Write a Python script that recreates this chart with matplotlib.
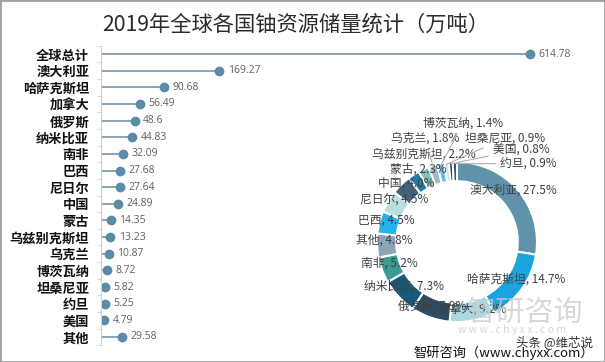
import matplotlib
matplotlib.use("Agg")
import matplotlib.pyplot as plt
import matplotlib.patches as patches
import numpy as np

plt.rcParams['font.family'] = ['Noto Sans CJK SC', 'DejaVu Sans']

# lollipop data (top to bottom)
countries = ['全球总计', '澳大利亚', '哈萨克斯坦', '加拿大', '俄罗斯', '纳米比亚', '南非', '巴西',
             '尼日尔', '中国', '蒙古', '乌兹别克斯坦', '乌克兰', '博茨瓦纳', '坦桑尼亚', '约旦',
             '美国', '其他']
reserves = [614.78, 169.27, 90.68, 56.49, 48.6, 44.83, 32.09, 27.68, 27.64, 24.89, 14.35,
            13.23, 10.87, 8.72, 5.82, 5.25, 4.79, 29.58]
value_labels = ['614.78', '169.27', '90.68', '56.49', '48.6', '44.83', '32.09', '27.68', '27.64',
                '24.89', '14.35', '13.23', '10.87', '8.72', '5.82', '5.25', '4.79', '29.58']

# donut data (clockwise from top)
pie_names = ['澳大利亚', '哈萨克斯坦', '加拿大', '俄罗斯', '纳米比亚', '南非', '其他', '巴西', '尼日尔',
             '中国', '蒙古', '乌兹别克斯坦', '乌克兰', '博茨瓦纳', '坦桑尼亚', '美国', '约旦']
pie_values = [169.27, 90.68, 56.49, 48.6, 44.83, 32.09, 29.58, 27.68, 27.64,
              24.89, 14.35, 13.23, 10.87, 8.72, 5.82, 4.79, 5.25]
pie_pct = ['27.5%', '14.7%', '9.2%', '7.9%', '7.3%', '5.2%', '4.8%', '4.5%', '4.5%',
           '4.0%', '2.3%', '2.2%', '1.8%', '1.4%', '0.9%', '0.8%', '0.9%']
pie_colors = ['#5e93ab', '#1aa5de', '#a9d9e1', '#2f4b63', '#17597c', '#3d9b95', '#8da4b5',
              '#1fb5ec', '#b9dfe1', '#3f6479', '#1b7ea9', '#7ec0ba', '#a7b7c7', '#5bc3ed',
              '#cfe6ec', '#24394a', '#1d5676']
# label positions in donut units (radius 1 = outer edge)
label_pos = [(0.70, 0.65), (0.74, -0.47), (0.19, -0.84), (-0.31, -0.80), (-0.66, -0.55),
             (-0.85, -0.26), (-0.91, 0.02), (-0.88, 0.27), (-0.78, 0.52), (-0.63, 0.73),
             (-0.48, 0.91), (-0.41, 1.10), (-0.40, 1.30), (0.07, 1.48), (0.60, 1.30),
             (0.80, 1.16), (0.89, 0.98)]
leader = [False] * 12 + [True] * 5

fig = plt.figure(figsize=(6.05, 3.62), dpi=100)
fig.patch.set_facecolor('white')

fig.text(0.489, 0.931, '2019年全球各国铀资源储量统计（万吨）', ha='center', va='center',
         fontsize=15.3, color='#2b2b2b', fontweight='medium')

# ---- lollipop ----
ax = fig.add_axes([101 / 605, 1 - 345.3 / 362, 461 / 605, 299.6 / 362])
ax.patch.set_alpha(0)
y = np.arange(len(countries))
ax.hlines(y, 0, reserves, color='#6a8ca0', lw=1.1)
ax.plot(reserves, y, 'o', color='#5b8ba6', ms=6)
for v, yy, s in zip(reserves, y, value_labels):
    ax.annotate(s, (v, yy), xytext=(6, 0), textcoords='offset points', va='center',
                ha='left', fontsize=7.5, color='#5f5f5f', family=['Open Sans', 'DejaVu Sans'])
ax.set_xlim(0, 660)
ax.set_ylim(len(countries) - 0.5, -0.5)
ax.set_yticks(y)
ax.set_yticklabels(countries, fontsize=9.5, fontweight='bold', color='#111111')
ax.set_yticks(np.arange(-0.5, len(countries)), minor=True)
ax.tick_params(axis='y', which='major', length=0, pad=8.5)
ax.tick_params(axis='y', which='minor', length=3, color='#cccccc')
ax.set_xticks([])
for sp in ['top', 'right', 'bottom']:
    ax.spines[sp].set_visible(False)
ax.spines['left'].set_color('#d0d0d0')

# ---- donut ----
R = 92
ax2 = fig.add_axes([(457 - 100) / 605, 1 - (242 + 100) / 362, 200 / 605, 200 / 362])
ax2.set_xlim(-100 / R, 100 / R)
ax2.set_ylim(-100 / R, 100 / R)
ax2.set_aspect('equal')
ax2.axis('off')
ax2.pie(pie_values, colors=pie_colors, startangle=90, counterclock=False, radius=1,
        wedgeprops=dict(width=0.24, edgecolor='white', linewidth=1.5))

frac = np.array(pie_values) / sum(pie_values)
cum = np.cumsum(frac) - frac / 2
ang = np.deg2rad(90 - 360 * cum)
for i, name in enumerate(pie_names):
    txt = f'{name}, {pie_pct[i]}'
    if leader[i]:
        ax2.annotate(txt, xy=(0.98 * np.cos(ang[i]), 0.98 * np.sin(ang[i])), xytext=label_pos[i],
                     ha='center', va='center', fontsize=8.5, color='#404040',
                     arrowprops=dict(arrowstyle='-', color='#b0b0b0', lw=0.8,
                                     shrinkA=1, shrinkB=0))
    else:
        ax2.text(label_pos[i][0], label_pos[i][1], txt, ha='center', va='center',
                 fontsize=8.5, color='#404040')

# watermark and source
fig.text(525 / 605, 1 - 313 / 362, '智研咨询', ha='center', va='center', fontsize=21,
         color='#c8ccd0', alpha=0.75)
fig.text(512 / 605, 1 - 330 / 362, 'w w w . c h y x x . c o m', ha='center', va='center',
         fontsize=7.5, color='#c8ccd0', alpha=0.8)
fig.text(593 / 605, 1 - 342 / 362, '头条 @维芯说', ha='right', va='center', fontsize=9,
         color='#333333')
fig.text(594 / 605, 1 - 353 / 362, '智研咨询（www.chyxx.com）', ha='right', va='center',
         fontsize=9.5, color='#111111')

fig.add_artist(patches.Rectangle((0, 0), 1, 1, transform=fig.transFigure, fill=False,
                                 edgecolor='#a0a0a0', lw=2))

fig.savefig('out.png', dpi=100)
